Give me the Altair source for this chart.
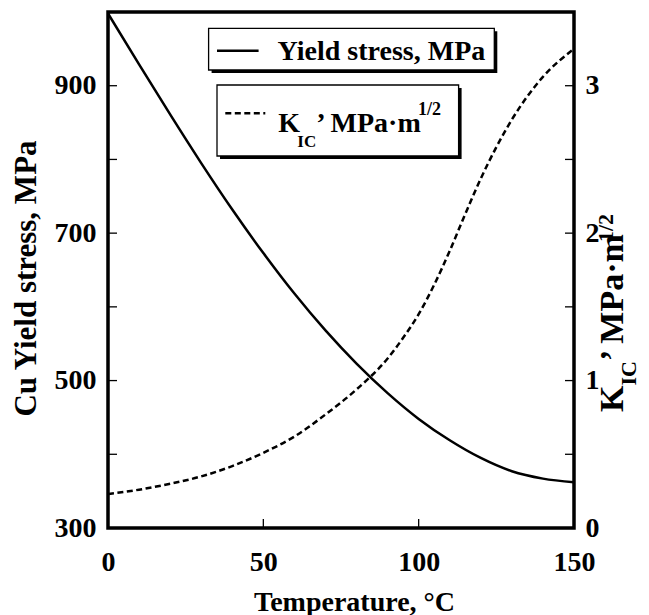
import altair as alt
import pandas as pd

# ---- data ----
temps = [0, 10, 20, 30, 40, 50, 60, 70, 80, 90, 100, 110, 120, 130, 140, 150]
yield_stress = [998, 929, 861, 795, 732, 673, 618, 568, 523, 483, 448, 419, 395, 377, 367, 362]

k_temps = [0, 10, 20, 30, 40, 50, 60, 70, 80, 90, 95, 100, 105, 110, 115, 120, 130, 140, 150]
k_ic = [0.23, 0.26, 0.30, 0.35, 0.42, 0.51, 0.62, 0.77, 0.94, 1.15, 1.29, 1.45, 1.65, 1.88, 2.13, 2.37,
        2.77, 3.06, 3.25]

x_labels = [0, 50, 100, 150]
x_ticks = [50, 100]
left_labels = [300, 500, 700, 900]
left_ticks = [400, 500, 600, 700, 800, 900]
right_labels = [0, 1, 2, 3]
right_ticks = [0.5, 1, 1.5, 2, 2.5, 3]

W, H = 466, 516
FONT = "Liberation Serif"

df_y = pd.DataFrame({"T": temps, "Y": yield_stress})
df_k = pd.DataFrame({"T": k_temps, "K": k_ic})
dummy = pd.DataFrame({"a": [0]})

x_scale = alt.Scale(domain=[0, 150], nice=False, zero=False)
yl_scale = alt.Scale(domain=[300, 1000], nice=False, zero=False)
yr_scale = alt.Scale(domain=[0, 3.5], nice=False, zero=False)

x_axis = alt.Axis(values=x_labels, title="Temperature, °C", tickSize=0, domain=False,
                  grid=False, labelPadding=20, titlePadding=12, format="d", labelFlush=False,
                  titleX=246, titleAlign="center")
yl_axis = alt.Axis(values=left_labels, title="Cu Yield stress, MPa", tickSize=0, domain=False,
                   grid=False, labelPadding=12, titlePadding=12, format="d", titleFontSize=31,
                   labelFlush=False, titleY=266, titleAlign="center")
yr_axis = alt.Axis(values=right_labels, orient="right", title=" ", tickSize=0, domain=False,
                   grid=False, labelPadding=11, format="d", labelFlush=False)

yield_line = alt.Chart(df_y).mark_line(color="black", strokeWidth=2.5, interpolate="monotone").encode(
    x=alt.X("T:Q", scale=x_scale, axis=x_axis),
    y=alt.Y("Y:Q", scale=yl_scale, axis=yl_axis),
)
k_line = alt.Chart(df_k).mark_line(color="black", strokeWidth=2.5, strokeDash=[6, 3.5],
                                   interpolate="monotone").encode(
    x=alt.X("T:Q", scale=x_scale, axis=None),
    y=alt.Y("K:Q", scale=yr_scale, axis=yr_axis),
)

tick_style = dict(color="black", strokeWidth=1.3)
lt = alt.Chart(pd.DataFrame({"Y": left_ticks})).mark_rule(**tick_style).encode(
    y=alt.Y("Y:Q", scale=yl_scale, axis=None), x=alt.value(0), x2=alt.value(9))
rtk = alt.Chart(pd.DataFrame({"K": right_ticks})).mark_rule(**tick_style).encode(
    y=alt.Y("K:Q", scale=yr_scale, axis=None), x=alt.value(W - 9), x2=alt.value(W))
xt = alt.Chart(pd.DataFrame({"T": x_ticks})).mark_rule(**tick_style).encode(
    x=alt.X("T:Q", scale=x_scale, axis=None), y=alt.value(H), y2=alt.value(H - 9))


def rect(x1, y1, x2, y2, fill, stroke=None):
    kw = dict(fill=fill)
    if stroke:
        kw.update(stroke=stroke, strokeWidth=1.3)
    return alt.Chart(dummy).mark_rect(**kw).encode(
        x=alt.value(x1), x2=alt.value(x2), y=alt.value(y1), y2=alt.value(y2))


def txt(s, x, y, size=28, angle=0):
    return alt.Chart(dummy).mark_text(text=s, font=FONT, fontSize=size, fontWeight="bold",
                                      color="black", align="left", baseline="alphabetic",
                                      angle=angle).encode(x=alt.value(x), y=alt.value(y))


def seg(x1, x2, y, dash=None):
    kw = dict(color="black", strokeWidth=2.5)
    if dash:
        kw["strokeDash"] = dash
    return alt.Chart(dummy).mark_rule(**kw).encode(x=alt.value(x1), x2=alt.value(x2), y=alt.value(y))


legend = [
    rect(103.6, 19.3, 389.3, 61, "black"),
    rect(100.6, 16.3, 386.3, 58, "white", "black"),
    seg(109, 150.6, 38.7),
    txt("Yield stress, MPa", 169.6, 48),
    rect(112, 76, 353.6, 147, "black"),
    rect(109, 73, 350.6, 144, "white", "black"),
    seg(117.3, 157.3, 101.3, [6, 3.5]),
    txt("K", 170.3, 119.7),
    txt("IC", 189.3, 134.7, 17),
    txt("\u2019 MPa\u00b7m", 208.3, 119.7),
    txt("1/2", 310, 103, 18),
]

# right axis title, rotated (reads bottom to top)
rt = [
    txt("K", 515, 400, 34, 270),
    txt("IC", 528, 373.5, 22, 270),
    txt("\u2019 MPa\u00b7m", 515, 349, 34, 270),
    txt("1/2", 505, 230, 22, 270),
]

chart = alt.layer(lt, rtk, xt, k_line, *legend, *rt, yield_line).resolve_scale(
    y="independent"
).resolve_axis(x="independent").properties(
    width=W, height=H,
    autosize=alt.AutoSizeParams(type="none"),
    padding={"left": 100, "top": 4, "right": 67, "bottom": 100},
).configure_view(stroke="black", strokeWidth=3.5).configure_axis(
    labelFont=FONT, labelFontSize=28, labelFontWeight="bold", labelColor="black",
    titleFont=FONT, titleFontSize=28, titleFontWeight="bold", titleColor="black",
)

chart.save("out.html", embed_options={"renderer": "svg", "actions": False})
